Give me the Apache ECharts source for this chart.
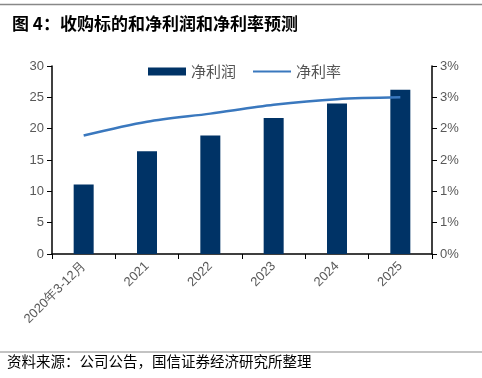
<!DOCTYPE html>
<html><head><meta charset="utf-8">
<script src="https://cdn.jsdelivr.net/npm/echarts@6/dist/echarts.min.js"></script>
<style>html,body{margin:0;padding:0;background:#fff}#c{width:482px;height:378px}</style>
</head><body><div id="c"></div>
<script>
const categories = ['2020年3-12月','2021','2022','2023','2024','2025'];
const netProfit = [11.1, 16.4, 18.9, 21.7, 24.0, 26.2];
const netMargin = [1.89, 2.11, 2.24, 2.38, 2.47, 2.50];
const leftTicks = {min:0, max:30, interval:5};
const rightTicks = {min:0, max:3, interval:0.5};

const chart = echarts.init(document.getElementById('c'), null, {renderer:'canvas'});
const lblFont = 'Liberation Sans, Arial, sans-serif';
const cjk = '"Noto Sans CJK SC", sans-serif';
chart.setOption({
  animation:false,
  title:{text:'图 4：收购标的和净利润和净利率预测', left:7, top:10,
    textStyle:{fontFamily:cjk, fontSize:17, fontWeight:'bold', color:'#000'}},
  graphic:[
    {type:'line', shape:{x1:0,y1:4.5,x2:482,y2:4.5}, style:{stroke:'#888', lineWidth:1.5}},
    {type:'line', shape:{x1:0,y1:352,x2:482,y2:352}, style:{stroke:'#888', lineWidth:1.2}},
    {type:'text', left:7, top:354, style:{text:'资料来源：公司公告，国信证券经济研究所整理', font:'14.5px "Noto Sans CJK SC"', fill:'#000'}}
  ],
  legend:{top:59, left:143, itemGap:16, itemWidth:38, itemHeight:8,
    textStyle:{fontFamily:cjk, fontSize:15, color:'#555'},
    data:[{name:'净利润', icon:'rect'},{name:'净利率', itemStyle:{opacity:0}}]},
  grid:{left:52, right:50, top:66, bottom:124},
  xAxis:{type:'category', data:categories,
    axisLine:{lineStyle:{color:'#000', width:1.5}},
    axisTick:{show:true, alignWithLabel:false, length:5, lineStyle:{color:'#000'}},
    axisLabel:{rotate:45, color:'#595959', fontFamily:lblFont, fontSize:13, margin:10}},
  yAxis:[
    {type:'value', min:leftTicks.min, max:leftTicks.max, interval:leftTicks.interval,
      axisLine:{show:true, lineStyle:{color:'#000', width:1.5}},
      axisTick:{show:true, length:5, inside:false, lineStyle:{color:'#000'}},
      splitLine:{show:false},
      axisLabel:{color:'#595959', fontFamily:lblFont, fontSize:13, margin:8}},
    {type:'value', min:rightTicks.min, max:rightTicks.max, interval:rightTicks.interval, position:'right',
      axisLine:{show:true, lineStyle:{color:'#000', width:1.5}},
      axisTick:{show:true, length:5, lineStyle:{color:'#000'}},
      splitLine:{show:false},
      axisLabel:{color:'#595959', fontFamily:lblFont, fontSize:13, margin:8,
        formatter:v=>Math.round(v)+'%'}}
  ],
  series:[
    {name:'净利润', type:'bar', data:netProfit, barWidth:20, yAxisIndex:0,
      itemStyle:{color:'#003366'}},
    {name:'净利率', type:'line', data:netMargin, yAxisIndex:1, smooth:0.3,
      symbol:'none', lineStyle:{color:'#3A78BE', width:2.5}, itemStyle:{color:'#3A78BE'}}
  ]
});
</script></body></html>
